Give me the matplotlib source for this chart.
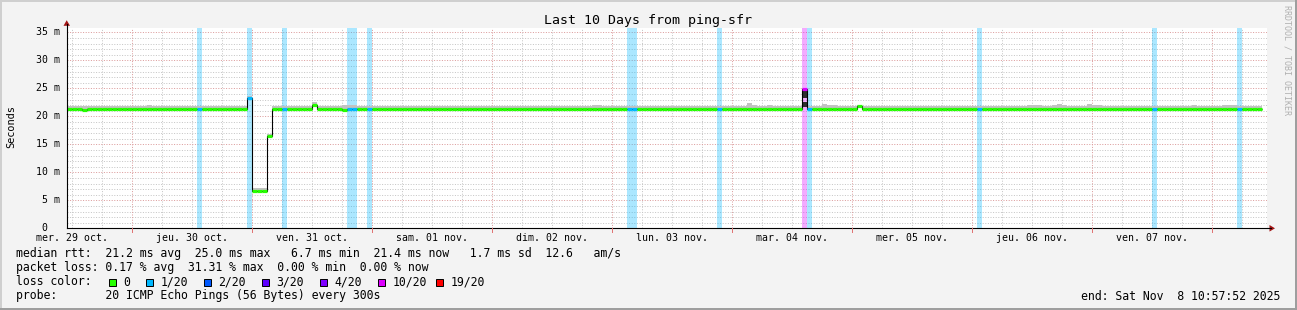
import matplotlib
matplotlib.use("Agg")
import matplotlib.pyplot as plt
from matplotlib.patches import Rectangle, Polygon
from matplotlib.lines import Line2D
import numpy as np

W, H = 1297, 310

title = "Last 10 Days from ping-sfr"
day_labels = ["mer. 29 oct.", "jeu. 30 oct.", "ven. 31 oct.", "sam. 01 nov.", "dim. 02 nov.",
              "lun. 03 nov.", "mar. 04 nov.", "mer. 05 nov.", "jeu. 06 nov.", "ven. 07 nov."]
first_noon = 1.036       # hours after graph start (10:57:52)
span_hours = 240
ytick_vals = [0, 5, 10, 15, 20, 25, 30, 35]
ytick_labels = ["0  ", "5 m", "10 m", "15 m", "20 m", "25 m", "30 m", "35 m"]

# hourly median rtt (ms), one row per 24 h
median = [
    21.3, 21.3, 21.3, 21.2, 21.3, 21.3, 21.3, 21.3, 21.3, 21.3, 21.3, 21.3, 21.3, 21.3, 21.3, 21.3, 21.3, 21.3, 21.3, 21.3, 21.3, 21.3, 21.3, 21.3,
    21.3, 21.3, 21.3, 21.3, 21.3, 21.3, 21.3, 21.3, 21.3, 21.3, 21.3, 21.3, 23.3, 6.7, 6.7, 6.7, 16.5, 21.3, 21.3, 21.3, 21.3, 21.3, 21.3, 21.3,
    21.3, 22.1, 21.3, 21.3, 21.3, 21.3, 21.3, 21.2, 21.3, 21.3, 21.3, 21.3, 21.3, 21.3, 21.3, 21.3, 21.3, 21.3, 21.3, 21.3, 21.3, 21.3, 21.3, 21.3,
    21.3, 21.3, 21.3, 21.3, 21.3, 21.3, 21.3, 21.3, 21.3, 21.3, 21.3, 21.3, 21.3, 21.3, 21.3, 21.3, 21.3, 21.3, 21.3, 21.3, 21.3, 21.3, 21.3, 21.3,
    21.3, 21.3, 21.3, 21.3, 21.3, 21.3, 21.3, 21.3, 21.3, 21.3, 21.3, 21.3, 21.3, 21.3, 21.3, 21.3, 21.3, 21.3, 21.3, 21.3, 21.3, 21.3, 21.3, 21.3,
    21.3, 21.3, 21.3, 21.3, 21.3, 21.3, 21.3, 21.3, 21.3, 21.3, 21.3, 21.3, 21.3, 21.3, 21.3, 21.3, 21.3, 21.3, 21.3, 21.3, 21.3, 21.3, 21.3, 21.3,
    21.3, 21.3, 21.3, 24.9, 21.3, 21.3, 21.3, 21.3, 21.3, 21.3, 21.3, 21.3, 21.3, 21.3, 21.8, 21.3, 21.3, 21.3, 21.3, 21.3, 21.3, 21.3, 21.3, 21.3,
    21.3, 21.3, 21.3, 21.3, 21.3, 21.3, 21.3, 21.3, 21.3, 21.3, 21.3, 21.3, 21.3, 21.3, 21.3, 21.3, 21.3, 21.3, 21.3, 21.3, 21.3, 21.3, 21.3, 21.3,
    21.3, 21.3, 21.3, 21.3, 21.3, 21.3, 21.3, 21.3, 21.3, 21.3, 21.3, 21.3, 21.3, 21.3, 21.3, 21.3, 21.3, 21.3, 21.3, 21.3, 21.3, 21.3, 21.3, 21.3,
    21.3, 21.3, 21.3, 21.3, 21.3, 21.3, 21.3, 21.3, 21.3, 21.3, 21.3, 21.3, 21.3, 21.3, 21.3, 21.3, 21.3, 21.3, 21.3, 21.3, 21.3, 21.3, 21.3,
]
# top of the grey smoke per hour (ms)
smoke_hi = [
    21.9, 21.9, 21.9, 21.9, 21.8, 21.9, 21.9, 21.8, 21.9, 21.9, 21.9, 21.9, 21.8, 21.9, 21.9, 21.9, 22.0, 21.9, 21.9, 21.9, 21.8, 21.9, 21.9, 21.9,
    21.9, 21.8, 21.8, 21.9, 21.9, 21.9, 21.8, 21.8, 21.9, 21.9, 21.8, 21.8, 23.6, 7.2, 7.2, 7.2, 16.8, 21.9, 21.9, 21.8, 21.9, 21.9, 21.8, 21.8,
    21.8, 22.6, 21.8, 21.8, 21.8, 21.9, 21.9, 22.0, 22.0, 22.0, 21.9, 21.9, 21.8, 21.8, 21.9, 21.9, 21.8, 21.8, 21.8, 21.9, 21.9, 21.8, 21.8, 21.8,
    21.8, 21.8, 21.8, 21.9, 21.8, 21.9, 21.9, 21.8, 21.9, 21.8, 21.8, 21.8, 21.9, 21.8, 21.8, 21.8, 21.8, 21.8, 21.9, 21.9, 21.9, 21.8, 21.8, 21.8,
    21.9, 21.8, 21.8, 21.9, 21.9, 21.8, 21.8, 21.8, 21.8, 22.0, 22.0, 21.9, 21.9, 21.8, 21.9, 21.9, 21.9, 21.9, 21.8, 21.8, 21.8, 21.8, 21.8, 21.8,
    21.8, 21.8, 21.8, 21.8, 21.9, 21.8, 21.8, 21.8, 21.8, 21.8, 21.8, 21.9, 21.9, 21.9, 21.9, 21.8, 22.3, 22.0, 21.9, 21.9, 22.0, 21.9, 21.9, 21.8,
    21.8, 21.8, 21.8, 25.1, 21.9, 21.9, 21.8, 22.2, 22.1, 22.0, 21.9, 21.9, 21.9, 21.9, 22.0, 21.9, 21.9, 21.9, 21.9, 21.9, 21.9, 21.9, 21.8, 21.8,
    21.8, 21.8, 21.8, 21.9, 21.9, 21.9, 21.9, 21.9, 21.8, 21.9, 21.9, 21.9, 21.9, 21.9, 21.9, 21.9, 21.9, 21.8, 21.8, 21.8, 21.9, 21.9, 21.9, 21.9,
    22.0, 22.0, 22.0, 21.9, 21.9, 22.0, 22.2, 22.1, 21.9, 21.9, 21.9, 21.9, 22.2, 22.0, 22.0, 21.9, 21.8, 21.8, 21.8, 21.8, 21.8, 21.8, 21.9, 21.9,
    21.9, 21.9, 21.9, 21.8, 21.9, 21.9, 21.9, 21.9, 21.9, 22.0, 21.9, 21.9, 21.9, 21.9, 21.9, 22.0, 22.0, 22.0, 21.9, 21.9, 21.9, 21.9, 21.9,
]
loss_hours = [26, 36, 43, 56, 57, 60, 112, 113, 130, 147, 148, 182, 217, 234]
loss_level = [1, 1, 1, 1, 1, 1, 1, 1, 1, 5, 1, 1, 1, 1]
loss_names = ["0", "1/20", "2/20", "3/20", "4/20", "10/20", "19/20"]
loss_colors = ["#26ff00", "#00b8ff", "#0059ff", "#5e00ff", "#7e00ff", "#dd00ff", "#ff0000"]
spike_hour = 147
spike_dark = [(21.6, 22.6), (23.3, 24.7)]

legend_lines = [
    "median rtt:  21.2 ms avg  25.0 ms max   6.7 ms min  21.4 ms now   1.7 ms sd  12.6   am/s",
    "packet loss: 0.17 % avg  31.31 % max  0.00 % min  0.00 % now",
    "loss color:",
    "probe:       20 ICMP Echo Pings (56 Bytes) every 300s",
]
end_text = "end: Sat Nov  8 10:57:52 2025"
mono = "DejaVu Sans Mono"


def fx(x):
    return x / W


def fy(y):
    return 1 - y / H


fig = plt.figure(figsize=(W / 100, H / 100), dpi=100)
fig.patch.set_facecolor("#f3f3f3")

left, right, top, bottom = 66.7, 1266.7, 28.0, 228.3
ax = fig.add_axes([fx(left), fy(bottom), (right - left) / W, (bottom - top) / H])
ax.set_facecolor("white")
ax.set_xlim(0, span_hours)
ax.set_ylim(0, (bottom - top) / 5.6)
for s in ax.spines.values():
    s.set_visible(False)
ax.set_xticks([])
ax.set_yticks([])

dots = (0, (1.0, 1.6))
minor_c = "#c6c6c6"
major_c = "#dc9c9c"
# horizontal grid
for v in range(1, 36):
    if v % 5:
        ax.axhline(v, color=minor_c, lw=0.72, ls=dots, zorder=1)
for v in ytick_vals[1:]:
    ax.axhline(v, color=major_c, lw=0.72, ls=dots, zorder=1.2)
# vertical grid: minor every 6 h, major at midnight
t = first_noon - 6
while t < span_hours:
    if t > 0:
        is_major = abs(((t - first_noon) % 24) - 12) < 0.01
        ax.axvline(t, color=major_c if is_major else minor_c, lw=0.72, ls=dots,
                   zorder=1.2 if is_major else 1)
    t += 6

# loss bands
for h, lvl in zip(loss_hours, loss_level):
    ax.axvspan(h, h + 1, color=loss_colors[lvl], alpha=0.33, lw=0, zorder=2)

hours = np.arange(len(median))
med = np.array(median)
ax.bar(hours, np.array(smoke_hi) - (med - 0.25), bottom=med - 0.25, width=1,
       align="edge", color="#c2c2c2", lw=0, zorder=3)
for lo, hi in spike_dark:
    ax.bar(spike_hour, hi - lo, bottom=lo, width=1, align="edge", color="#2e2e2e", lw=0, zorder=3.5)

ax.stairs(med, np.arange(len(median) + 1), baseline=None, color="black", lw=0.8, zorder=4)
lvl_by_hour = dict(zip(loss_hours, loss_level))
cols = [loss_colors[lvl_by_hour.get(h, 0)] for h in hours]
ax.hlines(med, hours, hours + 1, colors=cols, lw=2.3, zorder=5)

# axis lines and arrows
fig.add_artist(Line2D([fx(left), fx(1271)], [fy(bottom), fy(bottom)], color="black", lw=0.8))
fig.add_artist(Line2D([fx(left), fx(left)], [fy(bottom), fy(24)], color="black", lw=0.8))
arrow_c = "#a31515"
fig.add_artist(Polygon([[fx(1269.5), fy(225)], [fx(1269.5), fy(231.6)], [fx(1275), fy(228.3)]],
                       closed=True, color=arrow_c, lw=0))
fig.add_artist(Polygon([[fx(63.5), fy(25.8)], [fx(70), fy(25.8)], [fx(66.7), fy(20.2)]],
                       closed=True, color=arrow_c, lw=0))

# x tick labels at noon, red ticks at midnight
for i, lab in enumerate(day_labels):
    xp = left + (first_noon + 24 * i) * 5
    fig.text(fx(xp), fy(241), lab, ha="center", va="baseline", fontsize=7.1, family=mono)
    xm = left + (first_noon + 12 + 24 * i) * 5
    fig.add_artist(Line2D([fx(xm), fx(xm)], [fy(bottom), fy(231.5)], color="#e07070", lw=0.7))

# y tick labels
for v, lab in zip(ytick_vals, ytick_labels):
    fig.text(fx(60.5), fy(bottom - v * 5.6), lab, ha="right", va="center", fontsize=7.1, family=mono)

fig.text(fx(11), fy(127), "Seconds", rotation=90, ha="center", va="center", fontsize=7.4, family=mono)
fig.text(fx(648), fy(24), title, ha="center", va="baseline", fontsize=9.5, family=mono)
fig.text(fx(1287.5), fy(5), "RRDTOOL / TOBI OETIKER", rotation=270, ha="center", va="top",
         fontsize=6, family=mono, color="#b0b0b0")

# legend
for i, line in enumerate(legend_lines):
    fig.text(fx(16), fy(257.3 + 14 * i), line, ha="left", va="baseline", fontsize=8.3, family=mono)
box_x = [109, 145.7, 204, 261.7, 320, 377.7, 435.7]
for bx, name, c in zip(box_x, loss_names, loss_colors):
    fig.add_artist(Rectangle((fx(bx), fy(286)), 7 / W, 7 / H, facecolor=c, edgecolor="black", lw=0.7))
    fig.text(fx(bx + 14.5), fy(285.5), name, ha="left", va="baseline", fontsize=8.3, family=mono)
fig.text(fx(1280), fy(299.5), end_text, ha="right", va="baseline", fontsize=8.3, family=mono)

# 3d frame
fig.add_artist(Rectangle((0, fy(2)), 1, 2 / H, color="#cfcfcf", lw=0))
fig.add_artist(Rectangle((0, 0), 2 / W, 1, color="#cfcfcf", lw=0))
fig.add_artist(Rectangle((0, 0), 1, 2 / H, color="#9e9e9e", lw=0))
fig.add_artist(Rectangle((fx(1295), 0), 2 / W, 1, color="#9e9e9e", lw=0))

fig.savefig("out.png", dpi=100, facecolor=fig.get_facecolor())
